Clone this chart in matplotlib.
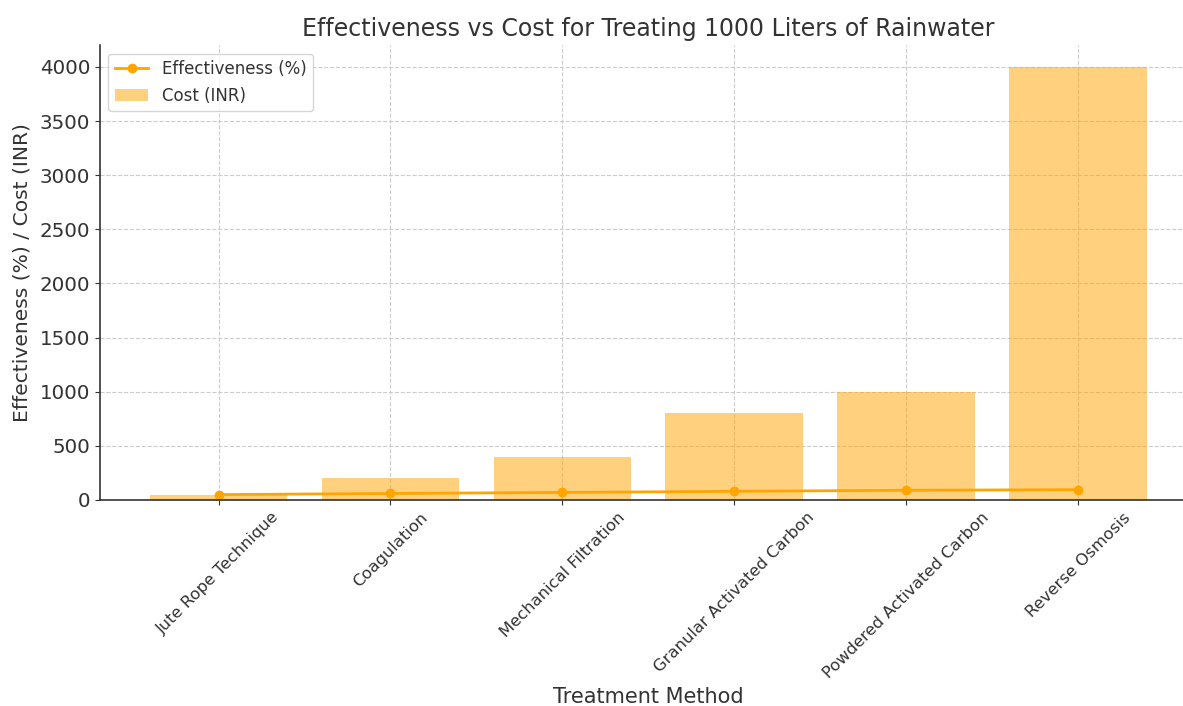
import numpy as np
import matplotlib

matplotlib.use("Agg")
import matplotlib.pyplot as plt

methods = [
    "Jute Rope Technique",
    "Coagulation",
    "Mechanical Filtration",
    "Granular Activated Carbon",
    "Powdered Activated Carbon",
    "Reverse Osmosis",
]
cost_inr = [50, 200, 400, 800, 1000, 4000]
effectiveness = [50, 60, 70, 80, 90, 95]


def make_plot(output_path: str) -> None:
    fig = plt.figure(figsize=(11.83, 7.06), dpi=100)
    ax = fig.add_axes([0.0845, 0.2918, 0.927, 0.644])

    x = np.arange(len(methods))
    ax.bar(x, cost_inr, width=0.8, color="orange", alpha=0.5, label="Cost (INR)")
    ax.plot(x, effectiveness, color="orange", marker="o", linewidth=2,
            label="Effectiveness (%)")

    ax.set_xticks(x)
    ax.set_xticklabels(methods, rotation=45, fontsize=11.8)
    ax.tick_params(axis="y", labelsize=14.3)
    ax.set_ylim(0, 4200)
    ax.set_xlim(-0.69, 5.69)

    ax.set_title("Effectiveness vs Cost for Treating 1000 Liters of Rainwater",
                 fontsize=17, color="#333333", pad=7)
    ax.set_xlabel("Treatment Method", fontsize=15, color="#333333")
    ax.set_ylabel("Effectiveness (%) / Cost (INR)", fontsize=14.6,
                  color="#333333", labelpad=6)

    ax.grid(True, linestyle="--", color="#cccccc", linewidth=0.8)
    ax.set_axisbelow(True)
    for side in ("top", "right"):
        ax.spines[side].set_visible(False)
    for side in ("left", "bottom"):
        ax.spines[side].set_color("#333333")
        ax.spines[side].set_linewidth(1.2)
    ax.tick_params(colors="#333333")

    leg = ax.legend(loc="upper left", fontsize=12)
    for t in leg.get_texts():
        t.set_color("#333333")

    fig.savefig(output_path, dpi=100)


if __name__ == "__main__":
    make_plot("out.png")
